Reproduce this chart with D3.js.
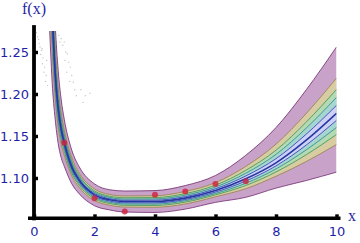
<!DOCTYPE html>
<html>
<head>
<meta charset="utf-8">
<script src="https://cdn.jsdelivr.net/npm/d3@7"></script>
<style>
  body { margin: 0; background: #fff; }
</style>
</head>
<body>
<svg id="chart" width="360" height="243"></svg>
<script>
const xGrid = [0.5, 0.55, 0.6, 0.7, 0.8, 0.9, 1, 1.25, 1.5, 2, 2.5, 3, 4, 5, 6, 7, 8, 9, 10];

// fitted curve (center line)
const fitMid = [1.390, 1.340, 1.298, 1.225, 1.183, 1.158, 1.142, 1.113, 1.097, 1.080, 1.074, 1.072, 1.072, 1.076, 1.085, 1.099, 1.118, 1.145, 1.177];

// outer band (purple)
const outerHi = [1.540, 1.460, 1.388, 1.285, 1.228, 1.193, 1.170, 1.133, 1.113, 1.093, 1.086, 1.0845, 1.085, 1.091, 1.103, 1.127, 1.160, 1.205, 1.256];
const outerLo = [1.290, 1.250, 1.214, 1.170, 1.141, 1.124, 1.114, 1.093, 1.081, 1.067, 1.062, 1.0595, 1.059, 1.063, 1.071, 1.077, 1.088, 1.097, 1.107];

// tan band
const tanHi = [1.470, 1.404, 1.346, 1.257, 1.207, 1.177, 1.157, 1.124, 1.1055, 1.087, 1.0804, 1.0786, 1.0789, 1.084, 1.0945, 1.1138, 1.1403, 1.1768, 1.2189];
const tanLo = [1.337, 1.2923, 1.2535, 1.1958, 1.1607, 1.140, 1.1272, 1.1024, 1.0885, 1.0731, 1.0676, 1.0654, 1.0651, 1.0691, 1.0776, 1.0873, 1.1021, 1.1196, 1.1399];

// green band
const greenHi = [1.444, 1.3832, 1.3304, 1.2466, 1.1992, 1.1706, 1.1521, 1.1202, 1.1028, 1.0847, 1.0783, 1.0765, 1.0767, 1.0814, 1.0915, 1.1091, 1.1331, 1.1666, 1.2054];
const greenLo = [1.354, 1.3076, 1.2678, 1.2052, 1.1679, 1.1458, 1.1319, 1.1058, 1.0912, 1.0753, 1.0697, 1.0675, 1.0673, 1.0713, 1.0800, 1.0911, 1.1072, 1.1277, 1.1518];

// teal band
const tealHi = [1.426, 1.3688, 1.3196, 1.2394, 1.1938, 1.1664, 1.1487, 1.1178, 1.1008, 1.0831, 1.0769, 1.0750, 1.0751, 1.0796, 1.0893, 1.1057, 1.1281, 1.1594, 1.1960];
const tealLo = [1.366, 1.3184, 1.2778, 1.2118, 1.1729, 1.1498, 1.1353, 1.1082, 1.0932, 1.0769, 1.0711, 1.0690, 1.0689, 1.0729, 1.0816, 1.0937, 1.1108, 1.1335, 1.1602];

// inner core (lavender)
const coreHi = [1.408, 1.3544, 1.3088, 1.2322, 1.1884, 1.1622, 1.1454, 1.1154, 1.0989, 1.0816, 1.0754, 1.0735, 1.0736, 1.0778, 1.0872, 1.1024, 1.1230, 1.1522, 1.1865];
const coreLo = [1.378, 1.3292, 1.2879, 1.2184, 1.1780, 1.1539, 1.1386, 1.1106, 1.0951, 1.0784, 1.0726, 1.0705, 1.0704, 1.0744, 1.0833, 1.0964, 1.1144, 1.1392, 1.1686];

// measured points
const obsX = [1, 2, 3, 4, 5, 6, 7];
const obsY = [1.142, 1.076, 1.060, 1.080, 1.084, 1.093, 1.096];

// faint gray sample cloud near the top left
const cloudX = [0.08, 0.12, 0.15, 0.17, 0.20, 0.25, 0.22, 0.30, 0.28, 0.35, 0.33, 0.40, 0.38, 0.45, 0.27, 0.42,
                0.82, 0.86, 0.90, 0.95, 1.00, 1.05, 1.10, 1.02, 1.15, 1.20, 1.08, 1.25, 1.30, 1.18, 1.35, 1.40,
                1.55, 1.70, 1.85, 1.62];
const cloudY = [1.273, 1.268, 1.265, 1.260, 1.256, 1.252, 1.247, 1.243, 1.236, 1.232, 1.226, 1.222, 1.215, 1.210, 1.254, 1.240,
                1.270, 1.262, 1.266, 1.258, 1.262, 1.250, 1.248, 1.240, 1.238, 1.232, 1.226, 1.222, 1.214, 1.215, 1.205, 1.198,
                1.205, 1.198, 1.201, 1.190];

// ticks
const xTicks = [0, 2, 4, 6, 8, 10];
const yTicks = [1.10, 1.15, 1.20, 1.25];

const yFloor = 1.052;   // where the x axis sits
const yTop = 1.275;     // top of the drawing area
const yAxisTop = 1.282;

const svg = d3.select("#chart");
const textColor = "#1f1fa8";

const x = d3.scaleLinear().domain([0, 10]).range([34, 336.5]);
const y = d3.scaleLinear().domain([1.10, 1.25]).range([178, 52]);

// clip so the bands stop at the plot edges
svg.append("clipPath").attr("id", "plotClip")
  .append("rect")
  .attr("x", x(0))
  .attr("y", y(yTop))
  .attr("width", x(10) - x(0))
  .attr("height", y(yFloor) - y(yTop));

const plot = svg.append("g").attr("clip-path", "url(#plotClip)");

const bands = [
  { hi: outerHi, lo: outerLo, fill: "#c9a2c9", stroke: "#7a3a7a" },
  { hi: tanHi, lo: tanLo, fill: "#d8cca2", stroke: "#9a8458" },
  { hi: greenHi, lo: greenLo, fill: "#b4dab4", stroke: "#4a9a5a" },
  { hi: tealHi, lo: tealLo, fill: "#a6d6d0", stroke: "#3a8f8f" },
  { hi: coreHi, lo: coreLo, fill: "#cfd0f6", stroke: "#3848b8" }
];

const area = (hi, lo) => d3.area()
  .x((d, i) => x(xGrid[i]))
  .y0((d, i) => y(lo[i]))
  .y1((d, i) => y(hi[i]))
  .curve(d3.curveMonotoneX)(xGrid);

const line = vals => d3.line()
  .x((d, i) => x(xGrid[i]))
  .y((d, i) => y(vals[i]))
  .curve(d3.curveMonotoneX)(xGrid);

bands.forEach(b => {
  plot.append("path")
    .attr("d", area(b.hi, b.lo))
    .attr("fill", b.fill);
  [b.hi, b.lo].forEach(edge => {
    plot.append("path")
      .attr("d", line(edge))
      .attr("fill", "none")
      .attr("stroke", b.stroke)
      .attr("stroke-width", 0.9);
  });
});

// center line
plot.append("path")
  .attr("d", line(fitMid))
  .attr("fill", "none")
  .attr("stroke", "#2438a0")
  .attr("stroke-width", 1.6);

// gray cloud
svg.append("g").selectAll("circle")
  .data(cloudX)
  .enter()
  .append("circle")
  .attr("cx", (d, i) => x(d))
  .attr("cy", (d, i) => y(cloudY[i]))
  .attr("r", 0.7)
  .attr("fill", "#c4c4c4");

// red points
svg.append("g").selectAll("circle")
  .data(obsX)
  .enter()
  .append("circle")
  .attr("cx", d => x(d))
  .attr("cy", (d, i) => y(obsY[i]))
  .attr("r", 3)
  .attr("fill", "#d0203c")
  .attr("fill-opacity", 0.8);

// axes
const xAxis = svg.append("g")
  .attr("transform", `translate(0,${y(yFloor)})`)
  .call(d3.axisBottom(x).tickValues(xTicks).tickSize(-4).tickSizeOuter(0).tickPadding(8.5));

const yAxis = svg.append("g")
  .attr("transform", `translate(${x(0)},0)`)
  .call(d3.axisLeft(y).tickValues(yTicks).tickSize(-4).tickSizeOuter(0).tickPadding(5)
    .tickFormat(d3.format(".2f")));

[xAxis, yAxis].forEach(g => {
  g.select(".domain").remove();
  g.selectAll(".tick line").attr("stroke", "#000").attr("stroke-width", 3.5);
  g.selectAll(".tick text")
    .attr("fill", textColor)
    .style("font-family", "'DejaVu Sans', sans-serif")
    .style("font-size", "13px");
});

// thick axis lines
svg.append("line")
  .attr("x1", x(0) - 6).attr("x2", x(10) + 4)
  .attr("y1", y(yFloor)).attr("y2", y(yFloor))
  .attr("stroke", "#000").attr("stroke-width", 3.5);

svg.append("line")
  .attr("x1", x(0)).attr("x2", x(0))
  .attr("y1", y(yAxisTop)).attr("y2", y(yFloor) + 2)
  .attr("stroke", "#000").attr("stroke-width", 3.8);

// axis titles
svg.append("text")
  .attr("x", x(0)).attr("y", 14)
  .attr("text-anchor", "middle")
  .attr("fill", textColor)
  .style("font-family", "'Liberation Serif', serif")
  .style("font-size", "16px")
  .text("f(x)");

svg.append("text")
  .attr("x", 348).attr("y", 221)
  .attr("fill", textColor)
  .style("font-family", "'Liberation Serif', serif")
  .style("font-size", "16px")
  .text("x");
</script>
</body>
</html>
